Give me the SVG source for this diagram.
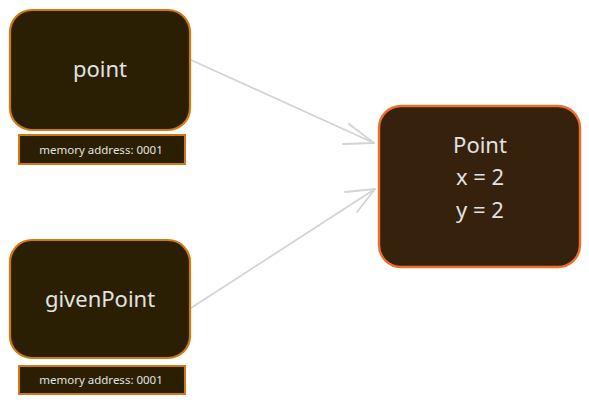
<svg xmlns="http://www.w3.org/2000/svg" width="589" height="405" viewBox="0 0 589 405">
<style>
.var{fill:#2a1f03;stroke:#d27811;stroke-width:2.2}
.obj{fill:#36210c;stroke:#ee6f2d;stroke-width:2.4}
.lbl{fill:#2a1f03;stroke:#d27811;stroke-width:2}
.t{font-family:"Noto Sans",sans-serif;fill:#e2e2e2;text-anchor:middle}
.big{font-size:22px}
.small{font-size:11.5px}
.con{fill:none;stroke:#d4d4d4;stroke-width:1.8;stroke-linecap:round;stroke-linejoin:round}
</style>
<rect width="589" height="405" fill="#ffffff"/>
<g id="connectors">
<path class="con" d="M191 60 L374 143"/>
<path class="con" d="M349 124 L374 143 L343 144"/>
<path class="con" d="M191 308 L375 189"/>
<path class="con" d="M345 192 L375 189 L357 212"/>
</g>
<g id="node-point">
<rect class="var" x="10" y="10" width="180" height="120" rx="22"/>
<text class="t big" x="100" y="77">point</text>
</g>
<g id="label-point">
<rect class="lbl" x="19" y="135" width="166" height="29"/>
<text class="t small" x="101" y="154">memory address: 0001</text>
</g>
<g id="node-givenPoint">
<rect class="var" x="10" y="240" width="180" height="118" rx="22"/>
<text class="t big" x="100" y="307">givenPoint</text>
</g>
<g id="label-givenPoint">
<rect class="lbl" x="19" y="366" width="166" height="28"/>
<text class="t small" x="101" y="384">memory address: 0001</text>
</g>
<g id="node-Point">
<rect class="obj" x="379" y="106" width="201" height="161" rx="22"/>
<text class="t big" x="480" y="153">Point</text>
<text class="t big" x="480" y="185">x = 2</text>
<text class="t big" x="480" y="218">y = 2</text>
</g>
</svg>
